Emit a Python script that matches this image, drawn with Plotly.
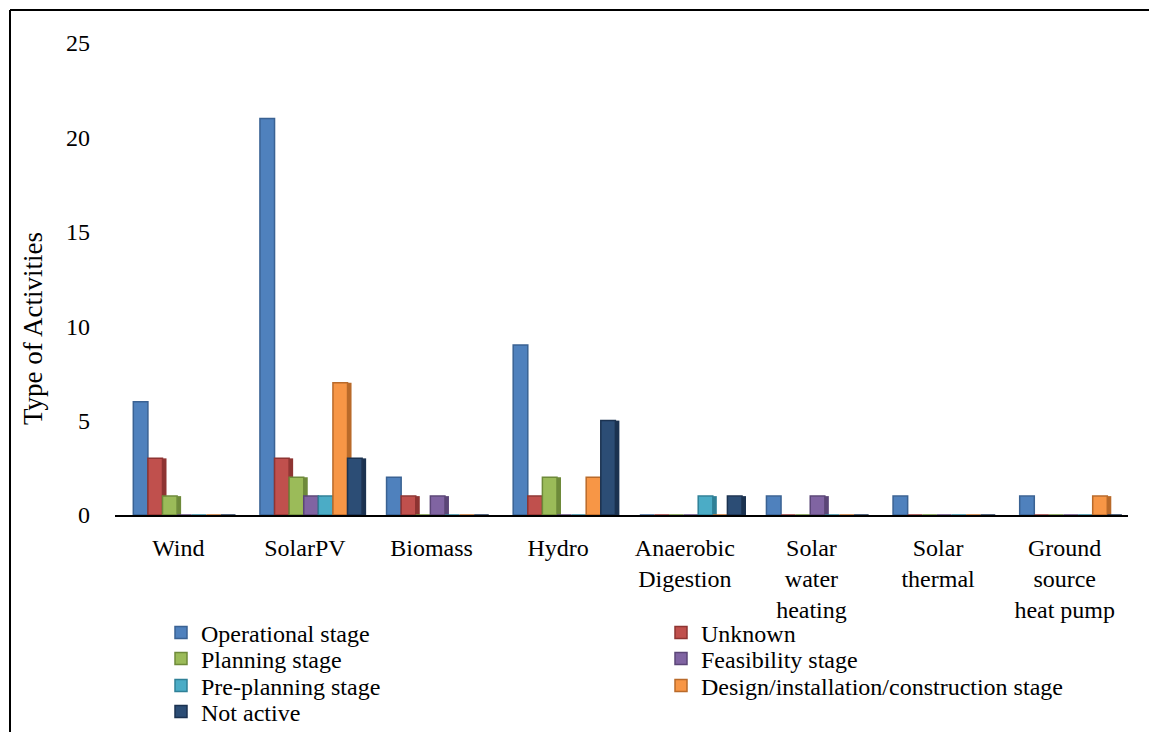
import plotly.graph_objects as go

# Renewable technology categories (x axis)
categories = [
    "Wind", "SolarPV", "Biomass", "Hydro",
    "Anaerobic<br>Digestion", "Solar<br>water<br>heating",
    "Solar<br>thermal", "Ground<br>source<br>heat pump",
]

# Activity counts per project stage
operational = [6, 21, 2, 9, 0, 1, 1, 1]
unknown = [3, 3, 1, 1, 0, 0, 0, 0]
planning = [1, 2, 0, 2, 0, 0, 0, 0]
feasibility = [0, 1, 1, 0, 0, 1, 0, 0]
pre_planning = [0, 1, 0, 0, 1, 0, 0, 0]
design_install = [0, 7, 0, 2, 0, 0, 0, 1]
not_active = [0, 3, 0, 5, 1, 0, 0, 0]

series = [
    ("Operational stage", operational, "#4F81BD", "#3A6293"),
    ("Unknown", unknown, "#C0504D", "#8E3432"),
    ("Planning stage", planning, "#9BBB59", "#6E8A3A"),
    ("Feasibility stage", feasibility, "#8064A2", "#5B4677"),
    ("Pre-planning stage", pre_planning, "#4BACC6", "#2F8097"),
    ("Design/installation/construction stage", design_install, "#F79646", "#B96A2A"),
    ("Not active", not_active, "#2C4D75", "#1B3250"),
]

FONT = "Liberation Serif, Times New Roman, serif"

# Plot area geometry (pixels)
W, H = 1149, 732
L, R, T, B = 115, 21, 43, 217
pw, ph = W - L - R, H - T - B
cat_px = pw / len(categories)


def px_x(x):
    return (x - L) / pw


def px_y(y):
    return (H - B - y) / ph


# Bar layout within a category slot (in category units)
BAR_W = 14.6 / cat_px
BAR_START = -45 / cat_px
SIDE_W = 4 / cat_px

# Legend grid: two columns, entries filled row by row
legend_cols = [161, 661]
legend_rows = [633, 659, 686, 712]

xs = list(range(len(categories)))
fig = go.Figure()

# Shaded side faces sit behind the front faces for a 3-D look
for i, (name, vals, fill, edge) in enumerate(series):
    if i == 0:
        continue
    fig.add_trace(go.Bar(
        x=xs, y=vals,
        offset=BAR_START + (i + 1) * BAR_W, width=SIDE_W,
        marker=dict(color=edge, line=dict(width=0)),
        showlegend=False, hoverinfo="skip",
    ))

legends = {}
for i, (name, vals, fill, edge) in enumerate(series):
    key = "legend" if i == 0 else f"legend{i + 1}"
    fig.add_trace(go.Bar(
        name=name,
        x=xs, y=vals,
        offset=BAR_START + i * BAR_W, width=BAR_W,
        marker=dict(color=fill, line=dict(color=edge, width=1.5)),
        legend=key,
    ))
    legends[key] = dict(
        xref="container", yref="container",
        x=legend_cols[i % 2] / W, y=1 - legend_rows[i // 2] / H,
        xanchor="left", yanchor="middle",
        itemwidth=30,
        font=dict(family=FONT, size=24, color="black"),
        bgcolor="rgba(0,0,0,0)",
    )

fig.update_layout(
    width=W, height=H,
    margin=dict(l=L, r=R, t=T, b=B, autoexpand=False),
    paper_bgcolor="white", plot_bgcolor="white",
    font=dict(family=FONT, size=24, color="black"),
    barmode="overlay",
    showlegend=True,
    xaxis=dict(
        tickmode="array",
        tickvals=xs,
        ticktext=categories,
        range=[-0.5, len(categories) - 0.5],
        showline=True, linecolor="black", linewidth=2,
        showgrid=False, zeroline=False, ticks="",
        ticklabelstandoff=10,
        tickfont=dict(family=FONT, size=24, color="black"),
    ),
    yaxis=dict(
        range=[0, 25],
        tickvals=[0, 5, 10, 15, 20, 25],
        showline=False, showgrid=False, zeroline=False, ticks="",
        ticklabelstandoff=24,
        tickfont=dict(family=FONT, size=24, color="black"),
    ),
    annotations=[
        dict(text="Type of Activities", textangle=-90,
             xref="paper", yref="paper", x=px_x(33), y=px_y(329),
             xanchor="center", yanchor="middle", showarrow=False,
             font=dict(family=FONT, size=27, color="black")),
    ],
    shapes=[
        dict(type="line", xref="paper", yref="paper",
             x0=px_x(10), x1=px_x(10), y0=px_y(10), y1=px_y(H),
             line=dict(color="black", width=2)),
        dict(type="line", xref="paper", yref="paper",
             x0=px_x(10), x1=px_x(W), y0=px_y(10), y1=px_y(10),
             line=dict(color="black", width=2)),
    ],
    **legends,
)

fig.write_html("out.html")
